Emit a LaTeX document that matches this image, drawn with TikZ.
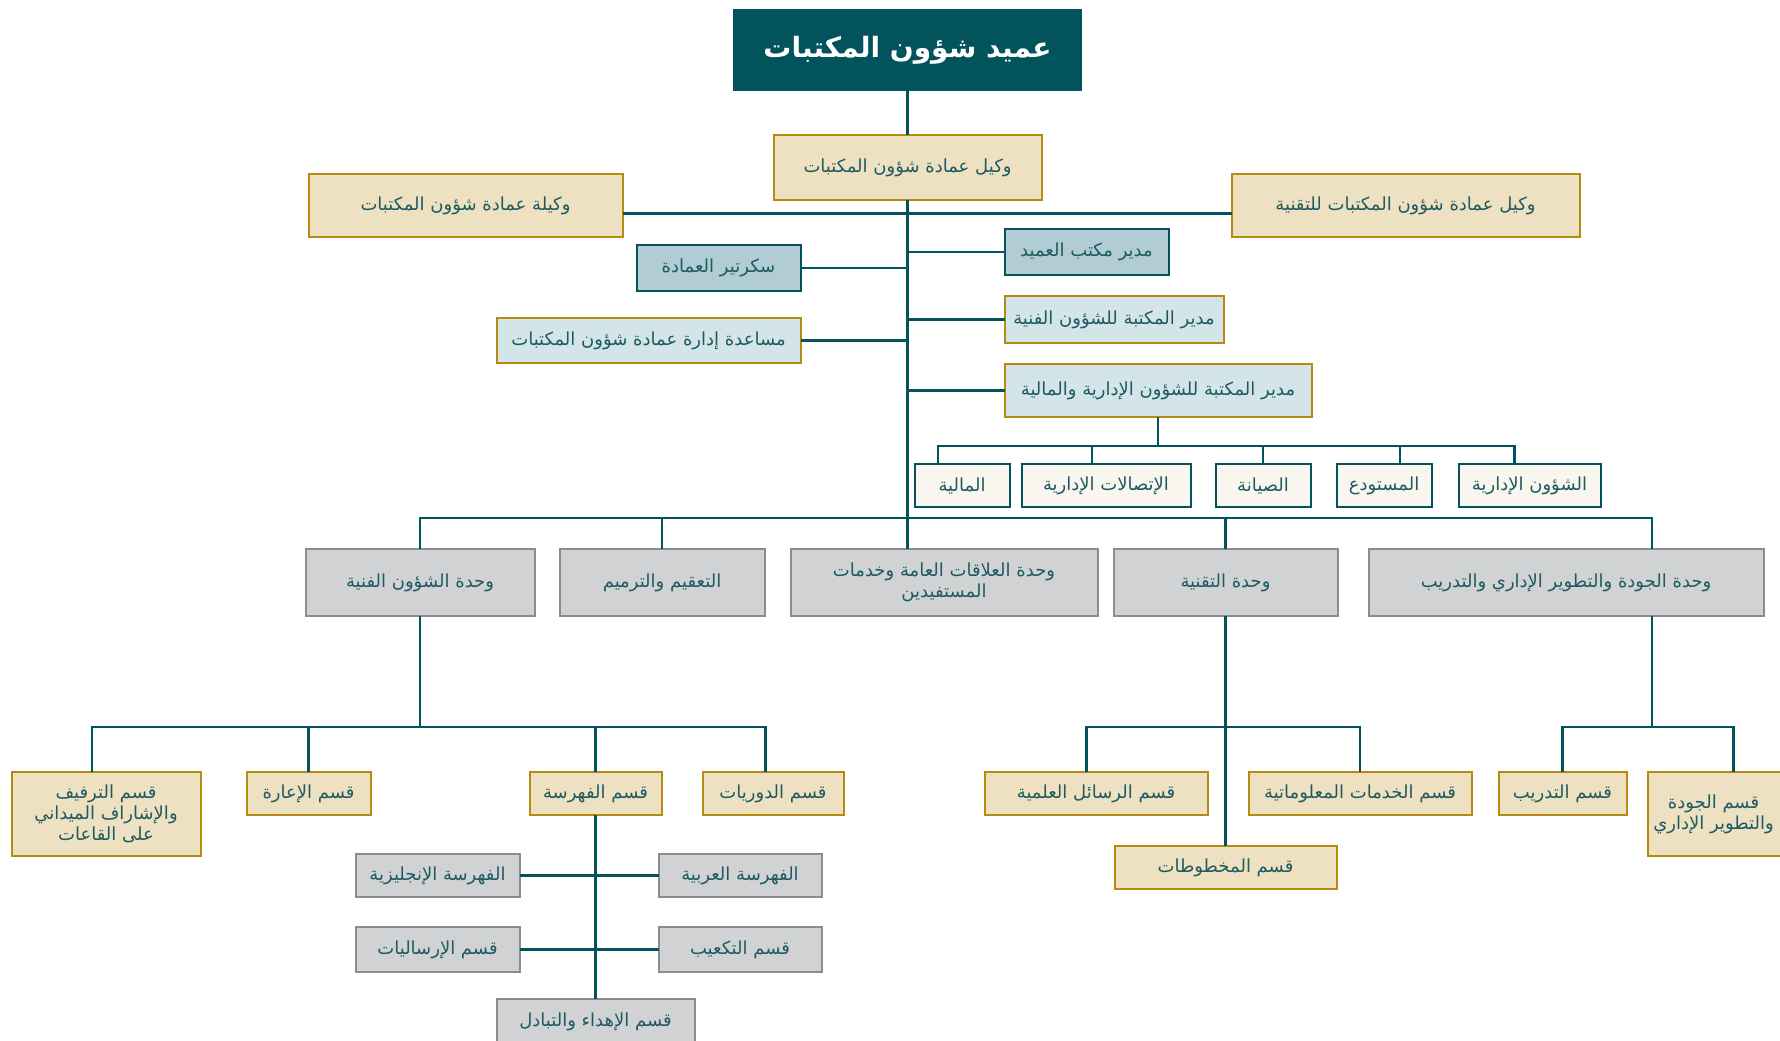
\documentclass[tikz,border=0pt]{standalone}
\usepackage{fontspec}
\newfontfamily\arabicfont[Script=Arabic]{DejaVu Sans}
\TeXXeTstate=1
\usepackage{xcolor}
\usepackage{tikz}
\usetikzlibrary{positioning, calc}
\definecolor{deanteal}{HTML}{03535D}
\definecolor{tealtext}{HTML}{1E5A62}
\definecolor{beige}{HTML}{EDE1C1}
\definecolor{goldline}{HTML}{B58B12}
\definecolor{paleblue}{HTML}{D4E5E9}
\definecolor{secblue}{HTML}{B1CDD3}
\definecolor{cream}{HTML}{F8F6EE}
\definecolor{greyfill}{HTML}{D1D2D4}
\definecolor{greyline}{HTML}{8C8C8C}
\newcommand{\artext}[1]{\beginR #1\endR}
\tikzset{
  base/.style = {rectangle, inner sep=2pt, outer sep=0pt, align=center, text=tealtext,
    font=\arabicfont\fontsize{9}{10.5}\selectfont},
  deanbox/.style = {base, fill=deanteal, text=white,
    font=\arabicfont\bfseries\fontsize{14}{16}\selectfont, minimum width=174.5pt, minimum height=41pt},
  goldbox/.style = {base, draw=goldline, line width=1pt, fill=beige},
  bluebox/.style = {base, draw=goldline, line width=1pt, fill=paleblue},
  secbox/.style = {base, draw=deanteal, line width=1pt, fill=secblue},
  subbox/.style = {base, draw=deanteal, line width=1pt, fill=cream, minimum height=21.5pt},
  greybox/.style = {base, draw=greyline, line width=1pt, fill=greyfill},
  link/.style = {draw=deanteal, line width=1.3pt},
}
\begin{document}
\begin{tikzpicture}
  \useasboundingbox (0,0) rectangle (890pt,-520pt);

  % Dean and vice deans
  \node[deanbox] (dean) at (453.75pt,-25pt) {\artext{عميد شؤون المكتبات}};
  \node[goldbox, minimum width=134pt, minimum height=32.5pt, below=22pt of dean] (vice) {\artext{وكيل عمادة شؤون المكتبات}};
  \node[goldbox, minimum width=157pt, minimum height=31.5pt, left=75.5pt of vice, yshift=-19pt] (vicef) {\artext{وكيلة عمادة شؤون المكتبات}};
  \node[goldbox, minimum width=174pt, minimum height=31.5pt, right=95pt of vice, yshift=-19pt] (vicet) {\artext{وكيل عمادة شؤون المكتبات للتقنية}};

  % Office staff and managers
  \node[secbox, minimum width=82pt, minimum height=23pt, below=14.5pt of vice, xshift=89.5pt] (offm) {\artext{مدير مكتب العميد}};
  \node[secbox, minimum width=82pt, minimum height=23pt, below=22.5pt of vice, xshift=-94.5pt] (secr) {\artext{سكرتير العمادة}};
  \node[bluebox, minimum width=109.5pt, minimum height=23.5pt, below=10.5pt of offm.south west, anchor=north west] (techm) {\artext{مدير المكتبة للشؤون الفنية}};
  \node[bluebox, minimum width=153.5pt, minimum height=26.5pt, below=10.5pt of techm.south west, anchor=north west] (admm) {\artext{مدير المكتبة للشؤون الإدارية والمالية}};
  \node[bluebox, minimum width=152pt, minimum height=22.5pt, below=13.5pt of secr.south east, anchor=north east] (asst) {\artext{مساعدة إدارة عمادة شؤون المكتبات}};

  % Administrative subsections
  \node[subbox, minimum width=47.5pt, below=23.5pt of admm, xshift=52.5pt] (maint) {\artext{الصيانة}};
  \node[subbox, minimum width=47.5pt, right=13pt of maint] (store) {\artext{المستودع}};
  \node[subbox, minimum width=71pt, right=13.5pt of store] (adm) {\artext{الشؤون الإدارية}};
  \node[subbox, minimum width=84.5pt, left=12.5pt of maint] (comm) {\artext{الإتصالات الإدارية}};
  \node[subbox, minimum width=47.5pt, left=6pt of comm] (fin) {\artext{المالية}};

  % Units
  \node[greybox, minimum width=153.5pt, minimum height=33.5pt, below=21pt of fin, xshift=-9pt] (pr) {\artext{وحدة العلاقات العامة وخدمات}\\\artext{المستفيدين}};
  \node[greybox, minimum width=102.5pt, minimum height=33.5pt, left=13pt of pr] (steril) {\artext{التعقيم والترميم}};
  \node[greybox, minimum width=114.5pt, minimum height=33.5pt, left=12.5pt of steril] (techaff) {\artext{وحدة الشؤون الفنية}};
  \node[greybox, minimum width=112pt, minimum height=33.5pt, right=8pt of pr] (techu) {\artext{وحدة التقنية}};
  \node[greybox, minimum width=197.5pt, minimum height=33.5pt, right=15.5pt of techu] (qual) {\artext{وحدة الجودة والتطوير الإداري والتدريب}};

  % Technical affairs sections
  \node[goldbox, minimum width=66pt, minimum height=21.5pt, below=78pt of techaff, xshift=87.75pt] (cat) {\artext{قسم الفهرسة}};
  \node[goldbox, minimum width=70.5pt, minimum height=21.5pt, right=20.5pt of cat] (period) {\artext{قسم الدوريات}};
  \node[goldbox, minimum width=62pt, minimum height=21.5pt, left=79.5pt of cat] (lend) {\artext{قسم الإعارة}};
  \node[goldbox, minimum width=94.5pt, minimum height=42pt, left=23pt of lend.north west, anchor=north east] (shelf) {\artext{قسم الترفيف}\\\artext{والإشاراف الميداني}\\\artext{على القاعات}};

  % Catalogue subsections
  \node[greybox, minimum width=82pt, minimum height=21.5pt, below=19.5pt of cat, xshift=-79pt] (engcat) {\artext{الفهرسة الإنجليزية}};
  \node[greybox, minimum width=81.5pt, minimum height=21.5pt, right=69.5pt of engcat] (arcat) {\artext{الفهرسة العربية}};
  \node[greybox, minimum width=82pt, minimum height=22.5pt, below=15pt of engcat] (ship) {\artext{قسم الإرساليات}};
  \node[greybox, minimum width=81.5pt, minimum height=22.5pt, right=69.5pt of ship] (cube) {\artext{قسم التكعيب}};
  \node[greybox, minimum width=99pt, minimum height=22.5pt, below=13.5pt of ship, xshift=79pt] (gift) {\artext{قسم الإهداء والتبادل}};

  % Technology sections
  \node[goldbox, minimum width=111.5pt, minimum height=21.5pt, below=78pt of techu, xshift=-64.75pt] (thesis) {\artext{قسم الرسائل العلمية}};
  \node[goldbox, minimum width=111.5pt, minimum height=21.5pt, right=20.5pt of thesis] (info) {\artext{قسم الخدمات المعلوماتية}};
  \node[goldbox, minimum width=111pt, minimum height=21.5pt, below=115pt of techu] (manu) {\artext{قسم المخطوطات}};

  % Quality sections
  \node[goldbox, minimum width=64pt, minimum height=21.5pt, below=78pt of qual, xshift=-1.75pt] (train) {\artext{قسم التدريب}};
  \node[goldbox, minimum width=86pt, minimum height=42pt, inner xsep=0pt, right=10.5pt of train.north east, anchor=north west] (qdept) {\artext{قسم الجودة}\hspace*{20pt}\\\artext{والتطوير الإداري}\hspace*{20pt}};

  % Main trunk
  \draw[link] (dean) -- (vice);
  \draw[link] (vice.south) -- (vice.south |- pr.north);
  \draw[link] ([yshift=-4pt]vicef.east) -- ([yshift=-4pt]vicet.west);
  \draw[link] (secr.east) -- (secr.east -| vice.south);
  \draw[link] (asst.east) -- (asst.east -| vice.south);
  \draw[link] (offm.west) -- (offm.west -| vice.south);
  \draw[link] (techm.west) -- (techm.west -| vice.south);
  \draw[link] (admm.west) -- (admm.west -| vice.south);

  % Administrative bus
  \coordinate (admbus) at ($(admm.south)+(0,-14.5pt)$);
  \draw[link] (admm.south) -- (admbus);
  \draw[link] ([xshift=-12pt]fin.north) |- (admbus);
  \draw[link] ([xshift=-7pt]comm.north) |- (admbus);
  \draw[link] (maint.north) |- (admbus);
  \draw[link] ([xshift=8pt]store.north) |- (admbus);
  \draw[link] ([xshift=-7.5pt]adm.north) |- (admbus);

  % Units bus
  \coordinate (unitbus) at ($(vice.south |- pr.north)+(0,15.5pt)$);
  \draw[link] (techaff.north) |- (unitbus);
  \draw[link] (steril.north) |- (unitbus);
  \draw[link] (techu.north) |- (unitbus);
  \draw[link] ([xshift=43pt]qual.north) |- (unitbus);

  % Technical affairs bus
  \coordinate (tabus) at ($(techaff.south)+(0,-55.5pt)$);
  \draw[link] (techaff.south) -- (tabus);
  \draw[link] ([xshift=-7pt]shelf.north) |- (tabus);
  \draw[link] (lend.north) |- (tabus);
  \draw[link] (cat.north) |- (tabus);
  \draw[link] ([xshift=-3.75pt]period.north) |- (tabus);

  % Catalogue trunk
  \draw[link] (cat.south) -- (gift.north);
  \draw[link] (engcat.east) -- (engcat.east -| cat.south);
  \draw[link] (arcat.west) -- (arcat.west -| cat.south);
  \draw[link] (ship.east) -- (ship.east -| cat.south);
  \draw[link] (cube.west) -- (cube.west -| cat.south);

  % Technology bus
  \coordinate (tubus) at ($(techu.south)+(0,-55.5pt)$);
  \draw[link] (techu.south) -- (manu.north);
  \draw[link] ([xshift=-4.75pt]thesis.north) |- (tubus);
  \draw[link] (info.north) |- (tubus);

  % Quality bus
  \coordinate (qbus) at ($([xshift=43pt]qual.south)+(0,-55.5pt)$);
  \draw[link] ([xshift=43pt]qual.south) -- (qbus);
  \draw[link] (train.north) |- (qbus);
  \draw[link] (qdept.north) |- (qbus);

\end{tikzpicture}
\end{document}
